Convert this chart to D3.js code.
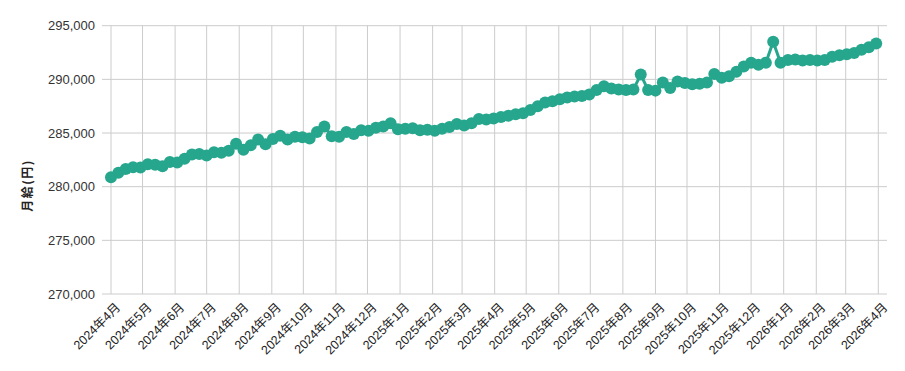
<!DOCTYPE html>
<html>
<head>
<meta charset="utf-8">
<script src="https://cdn.jsdelivr.net/npm/d3@7"></script>
<style>
    body { margin: 0; background: #ffffff; }
    svg { display: block; font-family: Arial, "Liberation Sans", "Noto Sans CJK JP", sans-serif; }
</style>
</head>
<body>
<div id="chart"><svg></svg></div>
<script>
// weekly values (Mondays from 2024-04-01)
var startDate = "2024-04-01";
var salary = [
    280870, 281300, 281650, 281800, 281780, 282100, 282050, 281900, 282300, 282250,
    282600, 283000, 283050, 282900, 283200, 283150, 283350, 284000, 283450, 283850,
    284400, 283950, 284450, 284750, 284400, 284650, 284600, 284500, 285100, 285600,
    284700, 284650, 285100, 284900, 285250, 285200, 285500, 285600, 285900, 285350,
    285400, 285450, 285250, 285300, 285200, 285400, 285550, 285850, 285700, 285900,
    286300, 286250, 286350, 286500, 286600, 286750, 286850, 287150, 287500, 287850,
    287950, 288150, 288300, 288400, 288450, 288600, 289000, 289350, 289150, 289050,
    289000, 289050, 290450, 289000, 288950, 289700, 289200, 289800, 289650, 289550,
    289600, 289700, 290500, 290150, 290300, 290700, 291200, 291550, 291350, 291550,
    293500, 291550, 291800, 291850, 291750, 291800, 291750, 291800, 292100, 292250,
    292350, 292450, 292750, 293000, 293350
];
var yTicks = [270000, 275000, 280000, 285000, 290000, 295000];
var xTickMonths = [
    "2024-04", "2024-05", "2024-06", "2024-07", "2024-08", "2024-09", "2024-10", "2024-11", "2024-12",
    "2025-01", "2025-02", "2025-03", "2025-04", "2025-05", "2025-06", "2025-07", "2025-08", "2025-09",
    "2025-10", "2025-11", "2025-12", "2026-01", "2026-02", "2026-03", "2026-04"
];
var yTitle = "月給(円)";

var width = 905, height = 371;
var plotLeft = 102, plotRight = 887, plotTop = 25.7, plotBottom = 294;
var color = "#26a68d";

var parseDay = d3.timeParse("%Y-%m-%d");
var parseMonth = d3.timeParse("%Y-%m");
var start = parseDay(startDate);

var data = salary.map(function(v, i) {
    return { date: d3.timeDay.offset(start, i * 7), value: v };
});
var tickDates = xTickMonths.map(parseMonth);

var svg = d3.select("#chart svg").attr("width", width).attr("height", height);

var x = d3.scaleTime()
    .domain([tickDates[0], tickDates[tickDates.length - 1]])
    .range([111, 878.3]);
var y = d3.scaleLinear()
    .domain([270000, 295000])
    .range([plotBottom, plotTop]);

var g = svg.append("g");

// horizontal grid
g.append("g")
    .selectAll("line")
    .data(yTicks)
    .enter().append("line")
    .attr("x1", plotLeft).attr("x2", plotRight)
    .attr("y1", function(d) { return y(d); })
    .attr("y2", function(d) { return y(d); })
    .style("stroke", "#cccccc")
    .style("stroke-width", 1);

// vertical grid
g.append("g")
    .selectAll("line")
    .data(tickDates)
    .enter().append("line")
    .attr("x1", function(d) { return x(d); })
    .attr("x2", function(d) { return x(d); })
    .attr("y1", plotTop).attr("y2", plotBottom)
    .style("stroke", "#cccccc")
    .style("stroke-width", 1);

// y labels
g.append("g")
    .selectAll("text")
    .data(yTicks)
    .enter().append("text")
    .attr("x", 95)
    .attr("y", function(d) { return y(d); })
    .attr("dy", "0.35em")
    .attr("text-anchor", "end")
    .style("font-size", "13px")
    .style("fill", "#333333")
    .text(d3.format(","));

// x labels
var fmt = d3.timeFormat("%Y");
g.append("g")
    .selectAll("text")
    .data(tickDates)
    .enter().append("text")
    .attr("transform", function(d) { return "translate(" + (x(d) + 7) + "," + (plotBottom + 11) + ") rotate(-45)"; })
    .attr("text-anchor", "end")
    .attr("dy", "0.35em")
    .style("font-size", "12.5px")
    .style("fill", "#222222")
    .text(function(d) { return fmt(d) + "年" + (d.getMonth() + 1) + "月"; });

// y title
svg.append("text")
    .attr("transform", "translate(28," + (height / 2) + ") rotate(-90)")
    .attr("text-anchor", "middle")
    .attr("dy", "0.35em")
    .style("font-size", "12px")
    .style("font-weight", "bold")
    .style("letter-spacing", "1.5px")
    .style("fill", "#222222")
    .style("font-family", "'Noto Sans CJK JP', sans-serif")
    .text(yTitle);

// line
var line = d3.line()
    .x(function(d) { return x(d.date); })
    .y(function(d) { return y(d.value); });

g.append("path")
    .datum(data)
    .attr("d", line)
    .style("fill", "none")
    .style("stroke", color)
    .style("stroke-width", 3);

g.append("g")
    .selectAll("circle")
    .data(data)
    .enter().append("circle")
    .attr("cx", function(d) { return x(d.date); })
    .attr("cy", function(d) { return y(d.value); })
    .attr("r", 6)
    .style("fill", color);
</script>
</body>
</html>
